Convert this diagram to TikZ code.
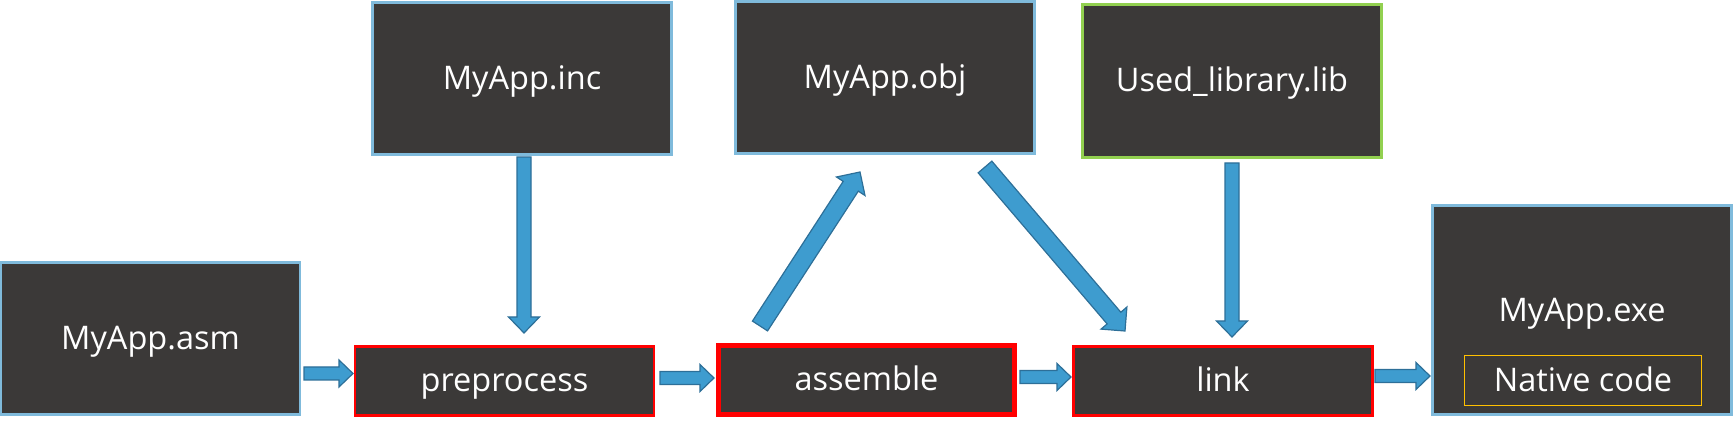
\documentclass[tikz,border=0pt]{standalone}
\usepackage{fontspec}
\setmainfont{Open Sans}
\usetikzlibrary{calc}
\definecolor{boxgray}{HTML}{3B3938}
\definecolor{lblue}{HTML}{7FBADB}
\definecolor{bred}{HTML}{FF0000}
\definecolor{bgreen}{HTML}{92D050}
\definecolor{bgold}{HTML}{FFC000}
\definecolor{afill}{HTML}{3E9CCF}
\definecolor{aedge}{HTML}{2D6F98}
\tikzset{
  boxfont/.style={text=white, font=\fontsize{32.5}{38}\selectfont, text height=28pt, text depth=6.8pt},
  box/.style={draw=lblue, fill=boxgray, line width=2.2pt, minimum width=299pt, minimum height=152pt,
    inner sep=0pt, outer sep=0pt, boxfont},
  stepbox/.style={box, draw=bred, minimum height=69pt},
  plain/.style={inner sep=0pt, boxfont},
  barrow/.style={fill=afill, draw=aedge, line width=1.2pt, line join=miter}
}
\newcommand{\blockarrow}[5]{%
  \coordinate (bneck) at ($(#2)!#5!(#1)$);
  \draw[barrow] ($(#1)!#3!90:(#2)$) -- ($(bneck)!#3!90:(#2)$) -- ($(bneck)!#4!90:(#2)$)
    -- (#2) -- ($(bneck)!#4!-90:(#2)$) -- ($(bneck)!#3!-90:(#2)$) -- ($(#1)!#3!-90:(#2)$) -- cycle;}
\begin{document}
\begin{tikzpicture}[x=1pt,y=-1pt]
\useasboundingbox (0,0) rectangle (1733,427);
% file boxes
\node[box] (asm) at (150.5,338.5) {MyApp.asm};
\node[box] (inc) at (522,78.5) {MyApp.inc};
\node[box] (obj) at (885,77.5) {MyApp.obj};
\node[box, draw=bgreen, minimum height=153pt] (lib) at (1232,81) {Used\_library.lib};
\node[box, minimum height=209pt] (exe) at (1582,310) {};
\node[plain] (exet) at (1582,311) {MyApp.exe};
\node[box, draw=bgold, line width=1.8pt, minimum width=237pt, minimum height=50pt] (nat) at (1583,380.5) {Native code};
% step boxes
\node[stepbox] (pre) at (504.5,381) {preprocess};
\node[stepbox, line width=5pt, minimum width=296pt, minimum height=69pt] (asmb) at (866.5,380) {assemble};
\node[stepbox] (link) at (1223,381) {link};
% arrow end points
\coordinate (a1s) at (304,373.5);   \coordinate (a1e) at (353,373.5);
\coordinate (a2s) at (660,378);     \coordinate (a2e) at (714,378);
\coordinate (a3s) at (1020,377);    \coordinate (a3e) at (1071,377);
\coordinate (a4s) at (1375,376);    \coordinate (a4e) at (1430,376);
\coordinate (a5s) at (524,157);     \coordinate (a5e) at (524,333);
\coordinate (a6s) at (1232,163);    \coordinate (a6e) at (1232,337);
\coordinate (a7s) at (760,326);     \coordinate (a7e) at (860,172);
\coordinate (a8s) at (985,167);     \coordinate (a8e) at (1125,331);
% arrows
\blockarrow{a1s}{a1e}{6.5pt}{13.5pt}{14pt}
\blockarrow{a2s}{a2e}{6.5pt}{13.5pt}{14pt}
\blockarrow{a3s}{a3e}{6.5pt}{13.5pt}{14pt}
\blockarrow{a4s}{a4e}{6.5pt}{13.5pt}{14pt}
\blockarrow{a5s}{a5e}{7pt}{15.5pt}{16pt}
\blockarrow{a6s}{a6e}{7pt}{15.5pt}{16pt}
\blockarrow{a7s}{a7e}{9pt}{17pt}{17pt}
\blockarrow{a8s}{a8e}{9pt}{17pt}{17pt}
\end{tikzpicture}
\end{document}
